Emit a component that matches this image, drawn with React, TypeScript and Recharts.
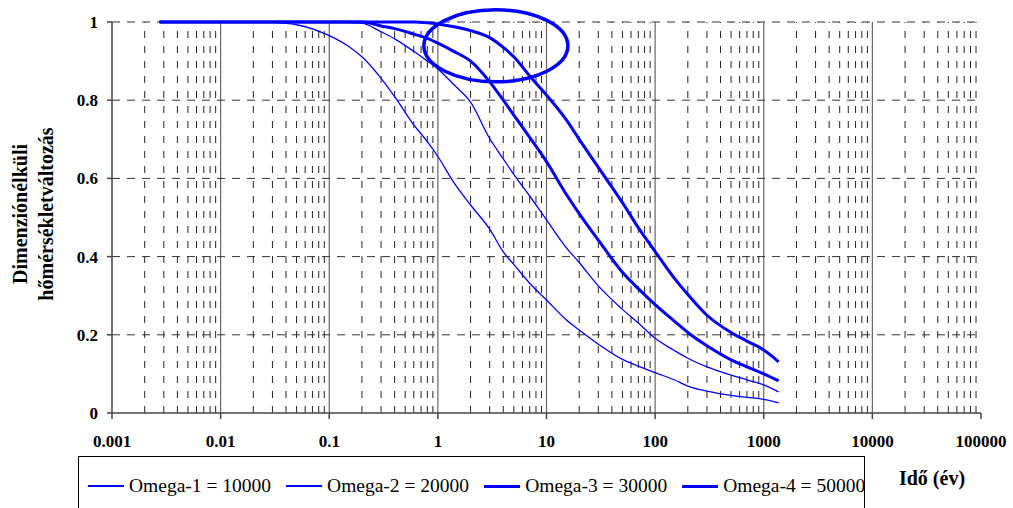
import { LineChart, Line, XAxis, YAxis, ReferenceLine, ReferenceDot } from 'recharts';

// time in years (first point = 1 day)
const times = [0.00274, 0.01, 0.02, 0.03, 0.05, 0.1, 0.15, 0.2, 0.3, 0.4, 0.6, 0.8, 1, 1.4, 2, 3, 4, 5, 7, 10, 15, 20, 30, 50, 70, 100, 150, 200, 300, 500, 700, 1000, 1370];

const omega1 = [1, 1, 1, 0.999, 0.993, 0.965, 0.938, 0.911, 0.856, 0.809, 0.737, 0.694, 0.656, 0.59, 0.532, 0.47, 0.412, 0.38, 0.332, 0.289, 0.24, 0.212, 0.176, 0.137, 0.12, 0.103, 0.085, 0.069, 0.056, 0.045, 0.04, 0.035, 0.026];
const omega2 = [1, 1, 1, 1, 1, 1, 0.999, 0.997, 0.975, 0.957, 0.925, 0.9, 0.88, 0.84, 0.795, 0.702, 0.65, 0.61, 0.555, 0.494, 0.425, 0.385, 0.325, 0.265, 0.23, 0.191, 0.16, 0.14, 0.118, 0.097, 0.085, 0.072, 0.054];
const omega3 = [1, 1, 1, 1, 1, 1, 1, 1, 0.99, 0.983, 0.969, 0.958, 0.946, 0.925, 0.9, 0.847, 0.8, 0.762, 0.705, 0.643, 0.562, 0.51, 0.442, 0.36, 0.318, 0.277, 0.235, 0.206, 0.172, 0.136, 0.118, 0.1, 0.082];
const omega4 = [1, 1, 1, 1, 1, 1, 1, 1, 1, 1, 1, 0.998, 0.995, 0.988, 0.978, 0.96, 0.935, 0.911, 0.862, 0.813, 0.752, 0.7, 0.628, 0.538, 0.474, 0.413, 0.345, 0.303, 0.25, 0.206, 0.184, 0.161, 0.131];

const seriesNames = ['Omega-1 = 10000', 'Omega-2 = 20000', 'Omega-3 = 30000', 'Omega-4 = 50000'];
const seriesWidths = [1.3, 1.3, 3, 3];

const xTicks = [0.001, 0.01, 0.1, 1, 10, 100, 1000, 10000, 100000];
const yTicks = [0, 0.2, 0.4, 0.6, 0.8, 1];
const majorGrid = [0.01, 0.1, 1, 10, 100, 1000, 10000];
const minorSteps = [2, 3, 4, 5, 6, 7, 8, 9];
const hGrid = [0.2, 0.4, 0.6, 0.8, 1];

// circled region (centre in data coords)
const circleAt = { t: 3.42, v: 0.939 };

const data = times.map((t, i) => ({
    t,
    o1: omega1[i],
    o2: omega2[i],
    o3: omega3[i],
    o4: omega4[i],
}));
const keys = ['o1', 'o2', 'o3', 'o4'];

const minorGrid: number[] = [];
xTicks.slice(0, -1).forEach((d) => minorSteps.forEach((m) => minorGrid.push(d * m)));

const BLUE = '#0000ff';
const FONT = '"Liberation Serif", "Times New Roman", serif';
const tickStyle = { fontFamily: FONT, fontSize: 17, fontWeight: 'bold', fill: '#000' };

const YLabel = () => (
    <g fontFamily={FONT} fontSize={20} fontWeight="bold" fill="#000">
        <text x={20} y={214} transform="rotate(-90 20 214)" textAnchor="middle" dominantBaseline="central">
            Dimenziónélküli
        </text>
        <text x={46} y={214} transform="rotate(-90 46 214)" textAnchor="middle" dominantBaseline="central">
            hőmérsékletváltozás
        </text>
    </g>
);

const XLabel = () => (
    <text x={932} y={485} textAnchor="middle" fontFamily={FONT} fontSize={20} fontWeight="bold" fill="#000">
        Idő (év)
    </text>
);

const Ellipse = (props: any) => (
    <ellipse cx={props.cx} cy={props.cy} rx={72} ry={36} fill="none" stroke={BLUE} strokeWidth={3.5} />
);

export default function App() {
    return (
        <div style={{ position: 'absolute', left: 0, top: 0, width: 1013, height: 508, background: '#fff', overflow: 'hidden' }}>
            <LineChart
                width={1013}
                height={508}
                data={data}
                margin={{ top: 22, right: 32, bottom: 65, left: 52 }}
            >
                <XAxis
                    dataKey="t"
                    type="number"
                    scale="log"
                    domain={[0.001, 100000]}
                    ticks={xTicks}
                    allowDataOverflow
                    height={30}
                    tickSize={6}
                    tickMargin={16}
                    tick={tickStyle}
                    tickFormatter={(v) => String(v)}
                    axisLine={{ stroke: '#444', strokeWidth: 1.5 }}
                    tickLine={{ stroke: '#444', strokeWidth: 1.5 }}
                    label={<XLabel />}
                />
                <YAxis
                    type="number"
                    domain={[0, 1]}
                    ticks={yTicks}
                    width={60}
                    tickSize={5}
                    tickMargin={9}
                    tick={tickStyle}
                    tickFormatter={(v) => String(v)}
                    axisLine={{ stroke: '#444', strokeWidth: 1.5 }}
                    tickLine={{ stroke: '#444', strokeWidth: 1.5 }}
                    label={<YLabel />}
                />
                {minorGrid.map((x) => (
                    <ReferenceLine key={'m' + x} x={x} stroke="#222" strokeWidth={1} strokeDasharray="7 8" />
                ))}
                {majorGrid.map((x) => (
                    <ReferenceLine key={'M' + x} x={x} stroke="#666" strokeWidth={1.2} />
                ))}
                {hGrid.map((y) => (
                    <ReferenceLine key={'h' + y} y={y} stroke="#333" strokeWidth={1} strokeDasharray="8 7" />
                ))}
                {keys.map((k, i) => (
                    <Line
                        key={k}
                        dataKey={k}
                        name={seriesNames[i]}
                        type="monotone"
                        stroke={BLUE}
                        strokeWidth={seriesWidths[i]}
                        dot={false}
                        isAnimationActive={false}
                    />
                ))}
                <ReferenceDot x={circleAt.t} y={circleAt.v} shape={<Ellipse />} />
            </LineChart>
            <div
                style={{
                    position: 'absolute',
                    left: 78,
                    top: 456,
                    width: 787,
                    height: 70,
                    border: '1px solid #000',
                    background: '#fff',
                    display: 'flex',
                    alignItems: 'flex-start',
                    paddingTop: 18,
                    paddingLeft: 9,
                    boxSizing: 'border-box',
                    fontFamily: FONT,
                    fontSize: 19.5,
                    lineHeight: '22px',
                    color: '#000',
                }}
            >
                {seriesNames.map((n, i) => (
                    <div key={n} style={{ display: 'flex', alignItems: 'center', marginRight: 15 }}>
                        <div style={{ width: 36, height: seriesWidths[i], background: BLUE, marginRight: 5 }} />
                        <span style={{ whiteSpace: 'nowrap' }}>{n}</span>
                    </div>
                ))}
            </div>
        </div>
    );
}
